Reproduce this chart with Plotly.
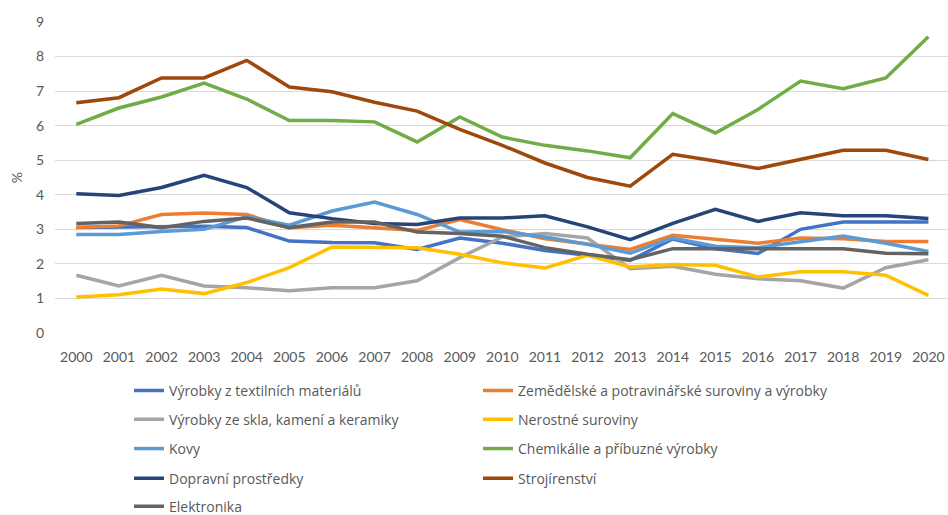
import plotly.graph_objects as go

years = list(range(2000, 2021))

names = [
    "Výrobky z textilních materiálů",
    "Zemědělské a potravinářské suroviny a výrobky",
    "Výrobky ze skla, kamení a keramiky",
    "Nerostné suroviny",
    "Kovy",
    "Chemikálie a příbuzné výrobky",
    "Dopravní prostředky",
    "Strojírenství",
    "Elektronika",
]

textil = [3.05, 3.07, 3.09, 3.09, 3.05, 2.66, 2.62, 2.61, 2.42, 2.75, 2.60, 2.39, 2.25, 2.10, 2.72, 2.44, 2.30, 3.00, 3.21, 3.21, 3.21]
zemedel = [3.05, 3.10, 3.43, 3.47, 3.43, 3.05, 3.12, 3.05, 2.97, 3.28, 2.99, 2.73, 2.57, 2.42, 2.83, 2.71, 2.60, 2.75, 2.73, 2.65, 2.65]
sklo = [1.67, 1.36, 1.67, 1.36, 1.31, 1.22, 1.31, 1.31, 1.51, 2.18, 2.78, 2.88, 2.75, 1.86, 1.93, 1.70, 1.57, 1.51, 1.30, 1.89, 2.12]
nerost = [1.04, 1.11, 1.27, 1.14, 1.46, 1.89, 2.49, 2.49, 2.47, 2.28, 2.03, 1.88, 2.25, 1.91, 1.98, 1.96, 1.62, 1.77, 1.77, 1.67, 1.09]
kovy = [2.85, 2.85, 2.94, 3.00, 3.36, 3.12, 3.53, 3.79, 3.43, 2.92, 2.94, 2.78, 2.57, 2.31, 2.75, 2.51, 2.47, 2.65, 2.81, 2.60, 2.36]
chemie = [6.04, 6.51, 6.83, 7.23, 6.77, 6.15, 6.15, 6.11, 5.53, 6.25, 5.67, 5.43, 5.27, 5.07, 6.35, 5.79, 6.47, 7.29, 7.07, 7.38, 8.57]
doprava = [4.03, 3.98, 4.21, 4.56, 4.21, 3.48, 3.31, 3.17, 3.14, 3.33, 3.33, 3.39, 3.07, 2.70, 3.17, 3.58, 3.23, 3.48, 3.39, 3.39, 3.31]
stroj = [6.66, 6.81, 7.38, 7.38, 7.89, 7.12, 6.98, 6.68, 6.42, 5.89, 5.43, 4.92, 4.50, 4.25, 5.17, 4.98, 4.76, 5.02, 5.29, 5.29, 5.02]
elektro = [3.17, 3.21, 3.05, 3.23, 3.33, 3.05, 3.21, 3.21, 2.92, 2.88, 2.80, 2.47, 2.28, 2.12, 2.44, 2.44, 2.44, 2.44, 2.44, 2.31, 2.29]

series = [textil, zemedel, sklo, nerost, kovy, chemie, doprava, stroj, elektro]
colors = ["#4472C4", "#ED7D31", "#A5A5A5", "#FFC000", "#5B9BD5",
          "#70AD47", "#264478", "#9E480E", "#636363"]

# one legend box per entry: two columns, five rows (as in the reference)
col_x = [0.0829, 0.4737]
row_y = [-0.1344, -0.2274, -0.3214, -0.4167, -0.507]

fig = go.Figure()
layout_legends = {}
for i, (name, vals, col) in enumerate(zip(names, series, colors)):
    key = "legend" if i == 0 else f"legend{i+1}"
    fig.add_trace(go.Scatter(x=years, y=vals, mode="lines", name=name,
                             line=dict(color=col, width=3.5), legend=key))
    layout_legends[key] = dict(
        orientation="v", x=col_x[i % 2], y=row_y[i // 2],
        xanchor="left", yanchor="top", itemwidth=30,
        font=dict(family="'Open Sans', sans-serif", size=14, color="#595959"),
        bgcolor="rgba(0,0,0,0)",
    )

fig.update_layout(
    width=948, height=515,
    margin=dict(l=55, r=0, t=22, b=182, autoexpand=False),
    plot_bgcolor="white", paper_bgcolor="white",
    font=dict(family="Lato, 'Open Sans', sans-serif", size=14, color="#595959"),
    showlegend=True,
    **layout_legends,
)
fig.update_xaxes(range=[1999.5, 2020.46], tickmode="array", tickvals=years,
                 ticktext=[str(y) for y in years], showgrid=False, zeroline=False,
                 showline=False, ticks="", automargin=False, ticklabeloverflow="allow",
                 ticklabelstandoff=14,
                 tickfont=dict(size=14, color="#595959"))
fig.update_yaxes(range=[0, 9], dtick=1, showgrid=True, gridcolor="#D9D9D9", gridwidth=1,
                 zeroline=False, showline=False, ticks="", automargin=False,
                 ticklabelstandoff=10,
                 title=dict(text="%", standoff=9, font=dict(size=14, color="#595959")),
                 tickfont=dict(size=14, color="#595959"))

fig.write_html("out.html", config={"displayModeBar": False},
               post_script="document.body.style.margin='0';document.body.style.overflow='hidden';")
